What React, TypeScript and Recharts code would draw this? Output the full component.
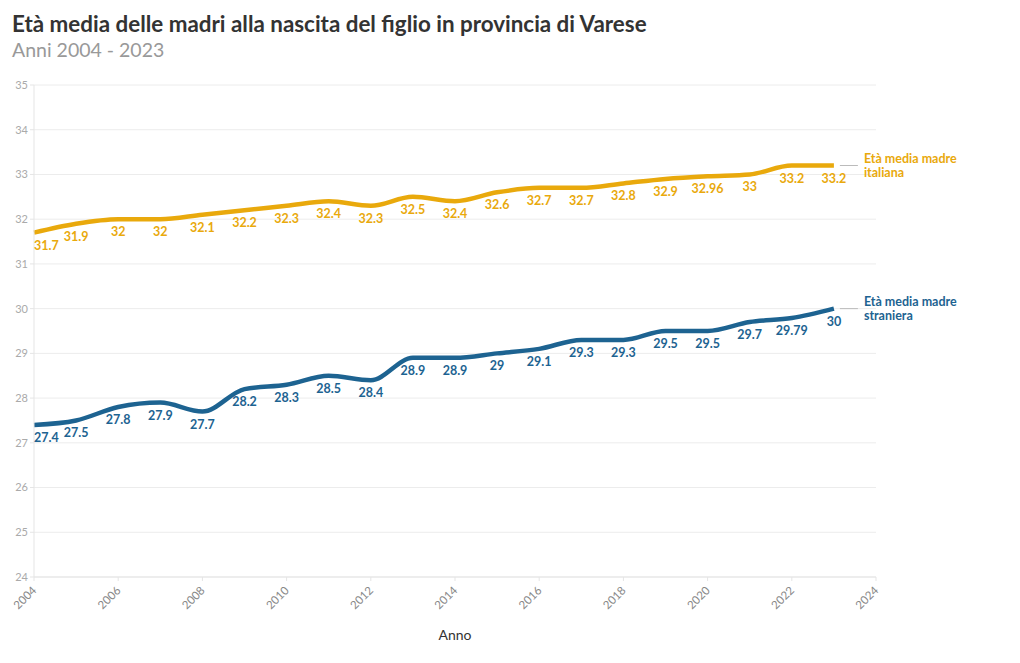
import { LineChart, Line, XAxis, YAxis, CartesianGrid } from "recharts";

// Anni e valori
const anni = [2004, 2005, 2006, 2007, 2008, 2009, 2010, 2011, 2012, 2013, 2014, 2015, 2016, 2017, 2018, 2019, 2020, 2021, 2022, 2023];
const madreItaliana = [31.7, 31.9, 32, 32, 32.1, 32.2, 32.3, 32.4, 32.3, 32.5, 32.4, 32.6, 32.7, 32.7, 32.8, 32.9, 32.96, 33, 33.2, 33.2];
const madreStraniera = [27.4, 27.5, 27.8, 27.9, 27.7, 28.2, 28.3, 28.5, 28.4, 28.9, 28.9, 29, 29.1, 29.3, 29.3, 29.5, 29.5, 29.7, 29.79, 30];
const tickAnni = [2004, 2006, 2008, 2010, 2012, 2014, 2016, 2018, 2020, 2022, 2024];
const tickEta = [24, 25, 26, 27, 28, 29, 30, 31, 32, 33, 34, 35];

const GIALLO = "#e9a90c";
const BLU = "#1d6391";
const FONT = "Lato, 'Noto Sans', sans-serif";

const dati = anni.map((anno, i) => ({
  anno,
  italiana: madreItaliana[i],
  straniera: madreStraniera[i],
}));

// Etichetta sotto ogni punto + nome della serie a destra dell'ultimo punto
function etichetta(colore: string, nome: string[]) {
  return (props: any) => {
    const { x, y, value, index } = props;
    const ultimo = index === anni.length - 1;
    return (
      <g key={`lab-${nome[1]}-${index}`}>
        <text
          x={x}
          y={y + 17}
          textAnchor={index === 0 ? "start" : "middle"}
          fill={colore}
          fontSize={12.5}
          fontWeight={700}
          fontFamily={FONT}
        >
          {value}
        </text>
        {ultimo && (
          <g>
            <line x1={x + 6} x2={x + 24} y1={y} y2={y} stroke="#bbb" strokeWidth={1} />
            <text x={x + 30} y={y - 3} fill={colore} fontSize={12.5} fontWeight={700} fontFamily={FONT}>
              {nome[0]}
            </text>
            <text x={x + 30} y={y + 11} fill={colore} fontSize={12.5} fontWeight={700} fontFamily={FONT}>
              {nome[1]}
            </text>
          </g>
        )}
      </g>
    );
  };
}

export default function App() {
  return (
    <div style={{ position: "absolute", left: 0, top: 0, width: 1020, height: 663, background: "#fff", fontFamily: FONT }}>
      <div style={{ position: "absolute", left: 12, top: 10, fontSize: 22.4, fontWeight: 700, color: "#333" }}>
        Età media delle madri alla nascita del figlio in provincia di Varese
      </div>
      <div style={{ position: "absolute", left: 12, top: 38, fontSize: 19.5, color: "#999" }}>
        Anni 2004 - 2023
      </div>
      <LineChart width={1020} height={663} data={dati} margin={{ top: 85, right: 144, bottom: 46, left: 12 }}>
        <CartesianGrid vertical={false} stroke="#ececec" />
        <XAxis
          dataKey="anno"
          type="number"
          domain={[2004, 2024]}
          ticks={tickAnni}
          height={40}
          stroke="#e5e5e5"
          tickLine={{ stroke: "#e5e5e5" }}
          tickSize={4}
          interval={0}
          tick={(p: any) => (
            <text
              x={p.x}
              y={p.y + 5}
              transform={`rotate(-45 ${p.x} ${p.y + 5})`}
              textAnchor="end"
              dominantBaseline="central"
              fill="#888"
              fontSize={11.5}
              fontFamily={FONT}
            >
              {p.payload.value}
            </text>
          )}
        />
        <YAxis
          type="number"
          domain={[24, 35]}
          ticks={tickEta}
          width={22}
          interval={0}
          stroke="#e5e5e5"
          tickLine={{ stroke: "#e5e5e5" }}
          tickSize={4}
          tick={{ fill: "#aaa", fontSize: 11, fontFamily: FONT }}
        />
        <Line
          type="monotone"
          dataKey="italiana"
          stroke={GIALLO}
          strokeWidth={4.5}
          dot={false}
          activeDot={false}
          isAnimationActive={false}
          label={etichetta(GIALLO, ["Età media madre", "italiana"])}
        />
        <Line
          type="monotone"
          dataKey="straniera"
          stroke={BLU}
          strokeWidth={4.5}
          dot={false}
          activeDot={false}
          isAnimationActive={false}
          label={etichetta(BLU, ["Età media madre", "straniera"])}
        />
        <text x={455} y={640} textAnchor="middle" fill="#333" fontSize={14} fontFamily={FONT}>
          Anno
        </text>
      </LineChart>
    </div>
  );
}
